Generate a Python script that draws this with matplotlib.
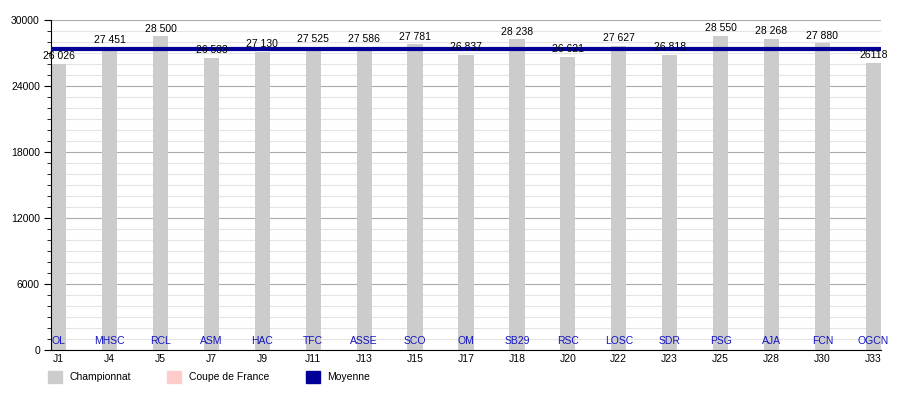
import matplotlib
matplotlib.use("Agg")
from matplotlib import pyplot as plt
from matplotlib.patches import Patch
import numpy as np

journees = ["J1", "J4", "J5", "J7", "J9", "J11", "J13", "J15", "J17",
            "J18", "J20", "J22", "J23", "J25", "J28", "J30", "J33"]
adversaires = ["OL", "MHSC", "RCL", "ASM", "HAC", "TFC", "ASSE", "SCO", "OM",
               "SB29", "RSC", "LOSC", "SDR", "PSG", "AJA", "FCN", "OGCN"]
affluence = [26026, 27451, 28500, 26533, 27130, 27525, 27586, 27781, 26837,
             28238, 26621, 27627, 26818, 28550, 28268, 27880, 26118]
etiquettes = ["26 026", "27 451", "28 500", "26 533", "27 130", "27 525",
              "27 586", "27 781", "26 837", "28 238", "26 621", "27 627",
              "26 818", "28 550", "28 268", "27 880", "26118"]
moyenne = 27382

plt.rcParams["font.family"] = ["Liberation Sans", "DejaVu Sans"]
fig = plt.figure(figsize=(9, 4), dpi=100)
ax = fig.add_axes([51/900, 50/400, 830/900, 330/400])

x = np.arange(len(journees))
ax.bar(x, affluence, width=0.3, color="#cccccc", zorder=2)
ax.axhline(moyenne, color="#000099", lw=3, zorder=3)

for xi, v, lab in zip(x, affluence, etiquettes):
    ax.text(xi, v + 250, lab, ha="center", va="bottom", fontsize=7.5, color="#000000", zorder=4)
for xi, t in zip(x, adversaires):
    ax.text(xi, 0.027, t, ha="center", va="center", fontsize=7.5, color="#1414c0",
            transform=ax.get_xaxis_transform(), zorder=4)

ax.set_xlim(-0.15, len(journees) - 0.85)
ax.set_ylim(0, 30000)
ax.set_yticks(np.arange(0, 30001, 6000))
ax.set_yticks(np.arange(0, 30001, 1000), minor=True)
ax.grid(axis="y", which="major", color="#aaaaaa", lw=0.8, zorder=0)
ax.grid(axis="y", which="minor", color="#e4e4e4", lw=0.8, zorder=0)
ax.set_xticks(x)
ax.set_xticklabels(journees)
ax.tick_params(axis="x", length=0, labelsize=7.5, pad=3)
ax.tick_params(axis="y", which="major", length=5, labelsize=7.5, pad=3)
ax.tick_params(axis="y", which="minor", length=3)
for s in ["top", "right"]:
    ax.spines[s].set_visible(False)

handles = [Patch(color="#cccccc"), Patch(color="#ffcccc"), Patch(color="#000099")]
fig.legend(handles, ["Championnat", "Coupe de France", "Moyenne"], loc="upper left",
           bbox_to_anchor=(48/900, 1 - 371/400), ncol=3, frameon=False, fontsize=7.5,
           borderpad=0, borderaxespad=0, handlelength=1.35, handleheight=1.35,
           columnspacing=3.45, handletextpad=0.75)

fig.savefig("out.png", dpi=100)
